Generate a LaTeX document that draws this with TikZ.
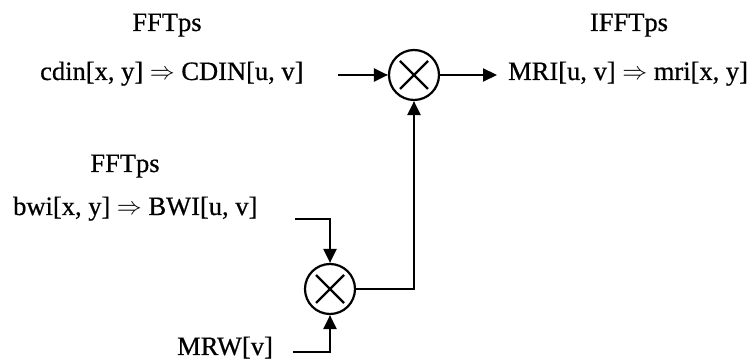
\documentclass[tikz,border=0pt]{standalone}
\usepackage{fontspec}
\setmainfont[FakeBold=0.6]{Liberation Serif}
\usetikzlibrary{arrows.meta, positioning}

\begin{document}
\begin{tikzpicture}[
  x=1pt, y=-1pt,
  every node/.style={font=\fontsize{26.5}{30}\selectfont, inner sep=0pt},
  mult/.style={circle, draw, line width=2.2pt, minimum size=50pt,
    path picture={\draw[line width=2.2pt] (path picture bounding box.center)
      +(-14pt,-14pt) -- +(14pt,14pt) +(-14pt,14pt) -- +(14pt,-14pt);}},
  arrow/.style={-{Triangle[length=14pt, width=13pt]}, line width=2.2pt}
]
  \useasboundingbox (0,0) rectangle (756,363);

  % Trasformate
  \node[anchor=base] (fftA) at (167,31) {FFTps};
  \node[anchor=base west] (cdin) at (40,80) {cdin[x, y] $\Rightarrow$ CDIN[u, v]};
  \node[anchor=base] (ifft) at (629,31) {IFFTps};
  \node[anchor=base west] (mri) at (508,80) {MRI[u, v] $\Rightarrow$ mri[x, y]};
  \node[anchor=base] (fftB) at (125,172) {FFTps};
  \node[anchor=base west] (bwi) at (13,215) {bwi[x, y] $\Rightarrow$ BWI[u, v]};
  \node[anchor=base west] (mrw) at (177,355) {MRW[v]};

  % Prodotti
  \node[mult] (mulA) at (414,75) {};
  \node[mult] (mulB) at (330,289) {};

  \coordinate (cdinend) at (338,75);
  \coordinate (mriin) at (497,75);
  \coordinate (bwiend) at (295,219);
  \coordinate (mrwend) at (293,352);

  \draw[arrow] (cdinend) -- (mulA);
  \draw[arrow] (mulA) -- (mriin);
  \draw[arrow] (bwiend) -| (mulB);
  \draw[arrow] (mrwend) -| (mulB);
  \draw[arrow] (mulB) -| (mulA);

\end{tikzpicture}
\end{document}
